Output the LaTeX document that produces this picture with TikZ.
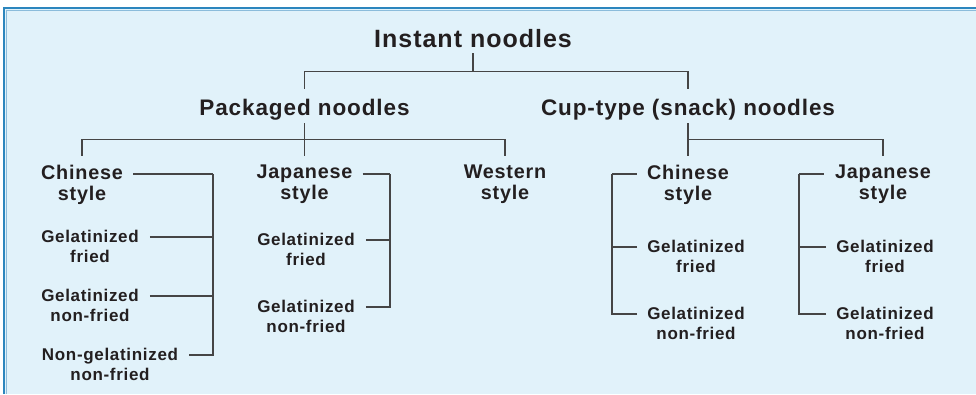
\documentclass[tikz,border=0pt]{standalone}
\usepackage{fontspec}
\usepackage{tikz}
\usepackage{xcolor}
\usetikzlibrary{calc}
\newfontfamily\diagfont{Liberation Sans}[LetterSpace=4]
\definecolor{panelcolorc}{HTML}{E1F2FA}
\definecolor{framecolorc}{HTML}{2C86BE}
\definecolor{inkc}{HTML}{231F20}
\definecolor{linkc}{HTML}{454545}
\colorlet{framelightc}{framecolorc!55!white}
\tikzstyle{rootlabel} = [
    font=\diagfont\bfseries\fontsize{25}{29}\selectfont,
    text=inkc,
    anchor=base,
    inner xsep=0pt,
    inner ysep=6pt,
    text depth=0pt
    ]
\tikzstyle{grouplabel} = [
    font=\diagfont\bfseries\fontsize{22.5}{26}\selectfont,
    text=inkc,
    anchor=base,
    inner xsep=0pt,
    inner ysep=6pt,
    text height=20pt,
    text depth=2pt
    ]
\tikzstyle{stylelabel} = [
    font=\diagfont\bfseries\fontsize{19.8}{21}\selectfont,
    text=inkc,
    align=center,
    anchor=north,
    inner xsep=0pt,
    inner ysep=9pt
    ]
\tikzstyle{leaflabel} = [
    font=\diagfont\bfseries\fontsize{17}{20}\selectfont,
    text=inkc,
    align=center,
    anchor=north,
    inner sep=0pt
    ]
\tikzstyle{link} = [
    draw=linkc,
    line width=1.1pt
    ]

\begin{document}
\begin{tikzpicture}[x=1pt,y=-1pt]
\useasboundingbox (0,0) rectangle (976,394);
% panel
\fill[panelcolorc] (4,8) rectangle (976,394);
\draw[framelightc, line width=1pt] (6,394) |- (976,10);
\draw[framecolorc, line width=2.2pt] (4.3,394) |- (976,8.3);

% top levels
\node[rootlabel] (root) at (473,47) {Instant noodles};
\node[grouplabel] (pack) at (304.5,115) {Packaged noodles};
\node[grouplabel] (cup) at (688,115) {Cup-type (snack) noodles};

% styles
\node[stylelabel] (pcn) at (82,156) {Chinese\\style};
\node[stylelabel] (pjs) at (304.5,156) {Japanese\\style};
\node[stylelabel] (pws) at (505,156) {Western\\style};
\node[stylelabel] (ccn) at (688,156) {Chinese\\style};
\node[stylelabel] (cjs) at (883,156) {Japanese\\style};

% kinds
\node[leaflabel] (pc1) at (90,230) {Gelatinized\\fried};
\node[leaflabel] (pc2) at (90,289) {Gelatinized\\non-fried};
\node[leaflabel] (pc3) at (110,348) {Non-gelatinized\\non-fried};
\node[leaflabel] (pj1) at (306,233) {Gelatinized\\fried};
\node[leaflabel] (pj2) at (306,300) {Gelatinized\\non-fried};
\node[leaflabel] (cc1) at (696,240) {Gelatinized\\fried};
\node[leaflabel] (cc2) at (696,307) {Gelatinized\\non-fried};
\node[leaflabel] (cj1) at (885,240) {Gelatinized\\fried};
\node[leaflabel] (cj2) at (885,307) {Gelatinized\\non-fried};

\coordinate (pcbar) at (213,174);
\coordinate (pjbar) at (390,174);
\coordinate (ccbar) at (612,174);
\coordinate (cjbar) at (799,174);

% tree
\draw[link] (root.south) -- ++(0,18) -| (pack.north);
\draw[link] (root.south) ++(0,18) -| (cup.north);
\draw[link] (pack.south) -- (pjs.north);
\draw[link] (pack.south) ++(0,16) -| (pcn.north);
\draw[link] (pack.south) ++(0,16) -| (pws.north);
\draw[link] (cup.south) -- (ccn.north);
\draw[link] (cup.south) ++(0,16) -| (cjs.north);

% brackets
\draw[link] ($(pcn.north east)+(10,18)$) -- (pcbar);
\draw[link] ($(pjs.north east)+(10,18)$) -- (pjbar);
\draw[link] ($(ccn.north west)+(-10,18)$) -- (ccbar);
\draw[link] ($(cjs.north west)+(-11,18)$) -- (cjbar);
\foreach \n/\b in {pc1/pcbar,pc2/pcbar,pc3/pcbar,pj1/pjbar,pj2/pjbar}
    \draw[link] ($(\n.north east)+(11,7)$) -| (\b);
\foreach \n/\b in {cc1/ccbar,cc2/ccbar,cj1/cjbar,cj2/cjbar}
    \draw[link] ($(\n.north west)+(-10,7)$) -| (\b);
\end{tikzpicture}
\end{document}
